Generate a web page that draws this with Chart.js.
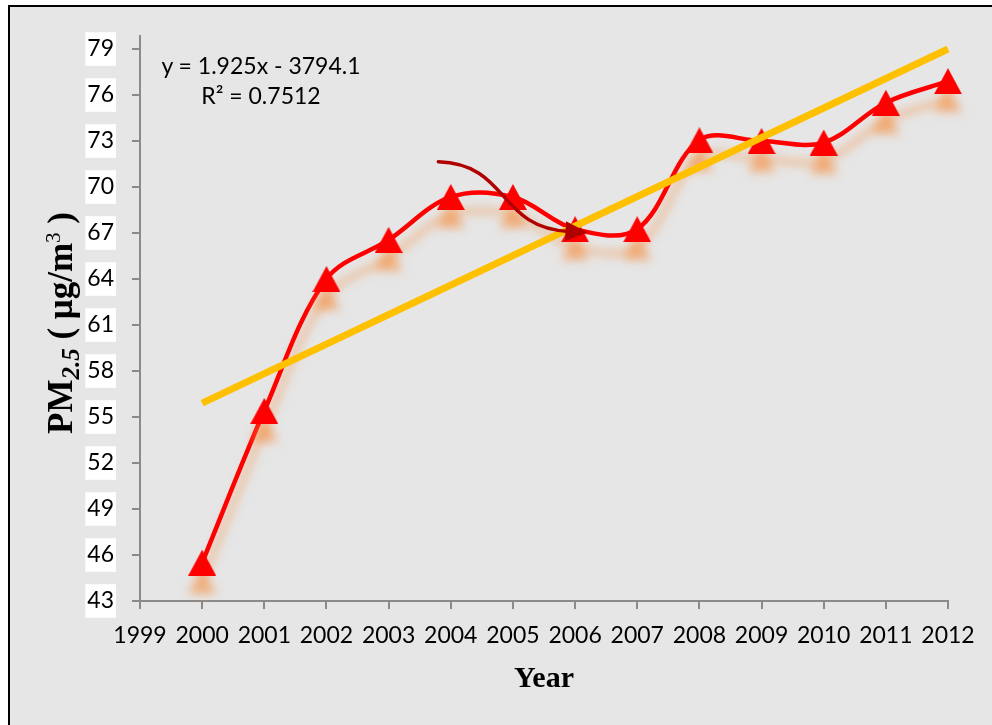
<!DOCTYPE html>
<html>
<head>
<meta charset="utf-8">
<script src="https://cdn.jsdelivr.net/npm/chart.js@4.4.1/dist/chart.umd.min.js"></script>
<style>
  body { margin: 0; background: #fff; width: 992px; height: 725px; overflow: hidden; position: relative; }
  #frame { position: absolute; left: 8px; top: 5px; width: 1000px; height: 740px; border: 2px solid #000; background: #e6e6e6; }
  #chart { position: absolute; left: 0; top: 0; }
  .eq { position: absolute; left: 151px; width: 220px; text-align: center; font: 23px Lato, "Open Sans", sans-serif; color: #000; line-height: 30px; }
  #ytitle { position: absolute; left: 63px; top: 323px; transform: translate(-50%, -50%) rotate(-90deg);
            white-space: nowrap; font: bold 35px "Liberation Serif", "Times New Roman", serif; color: #000; }
  #ytitle sub { font-size: 25px; font-style: italic; vertical-align: -7px; }
  #ytitle sup { font-size: 21px; vertical-align: 12px; font-weight: normal; }
</style>
</head>
<body>
<div id="frame"></div>
<canvas id="chart" width="992" height="725"></canvas>
<div class="eq" style="top:50px">y = 1.925x - 3794.1</div>
<div class="eq" style="top:80px">R² = 0.7512</div>
<div id="ytitle">PM<sub>2.5</sub>&nbsp;( μg/m<sup>3</sup> )</div>
<script>
// PM2.5 annual mean
const years = [2000, 2001, 2002, 2003, 2004, 2005, 2006, 2007, 2008, 2009, 2010, 2011, 2012];
const pm25  = [45.5, 55.4, 64.0, 66.55, 69.35, 69.35, 67.25, 67.25, 73.05, 73.0, 72.9, 75.5, 76.9];

// linear trendline (y = 1.925x - 3794.1), end points
const trendYears  = [2000, 2012];
const trendValues = [55.9, 79.0];

const xTicks = [1999, 2000, 2001, 2002, 2003, 2004, 2005, 2006, 2007, 2008, 2009, 2010, 2011, 2012];
const yTicks = [43, 46, 49, 52, 55, 58, 61, 64, 67, 70, 73, 76, 79];

// curved arrow annotation (data units: start, ctrl1, ctrl2, end)
const arrowPath = [[2003.8, 71.65], [2004.95, 71.5], [2004.75, 67.3], [2006.2, 67.05]];

// centred triangle marker
const tri = document.createElement('canvas');
tri.width = 28; tri.height = 26;
(function () {
  const c = tri.getContext('2d');
  c.fillStyle = '#ff0000';
  c.beginPath();
  c.moveTo(14, 0); c.lineTo(28, 26); c.lineTo(0, 26); c.closePath();
  c.fill();
})();

const shadowPlugin = {
  id: 'shadow',
  beforeDatasetDraw(chart, args) {
    if (args.index !== 1) return;
    const ctx = chart.ctx;
    ctx.save();
    ctx.shadowColor = 'rgba(245,140,60,0.6)';
    ctx.shadowBlur = 10;
    ctx.shadowOffsetY = 18;
  },
  afterDatasetDraw(chart, args) {
    if (args.index !== 1) return;
    chart.ctx.restore();
  }
};

const arrowPlugin = {
  id: 'arrow',
  afterDraw(chart) {
    const {ctx, scales: {x, y}} = chart;
    const p = arrowPath.map(([a, b]) => [x.getPixelForValue(a), y.getPixelForValue(b)]);
    const [ex, ey] = p[3];
    const ang = Math.atan2(ey - p[2][1], ex - p[2][0]);
    const c = Math.cos(ang), s = Math.sin(ang);
    const L = 22, W = 10;
    ctx.save();
    ctx.strokeStyle = '#b00000';
    ctx.fillStyle = '#b00000';
    ctx.lineWidth = 3.5;
    ctx.lineCap = 'round';
    ctx.beginPath();
    ctx.moveTo(p[0][0], p[0][1]);
    ctx.bezierCurveTo(p[1][0], p[1][1], p[2][0], p[2][1], ex - (L - 4) * c, ey - (L - 4) * s);
    ctx.stroke();
    ctx.beginPath();
    ctx.moveTo(ex, ey);
    ctx.lineTo(ex - L * c + W * s, ey - L * s - W * c);
    ctx.lineTo(ex - L * c - W * s, ey - L * s + W * c);
    ctx.closePath();
    ctx.fill();
    ctx.restore();
  }
};

const axisGray = '#8a8a8a';
const tickFont = { family: 'Lato, "Open Sans", sans-serif', size: 23 };

new Chart(document.getElementById('chart'), {
  type: 'line',
  data: {
    datasets: [
      {
        label: 'Trend',
        data: trendYears.map((t, i) => ({ x: t, y: trendValues[i] })),
        borderColor: '#ffc000',
        borderWidth: 7,
        pointRadius: 0,
        borderCapStyle: 'butt',
        clip: false
      },
      {
        label: 'PM2.5',
        data: years.map((t, i) => ({ x: t, y: pm25[i] })),
        borderColor: '#ff0000',
        borderWidth: 4.5,
        tension: 0.35,
        pointStyle: tri,
        pointRadius: 14,
        pointHoverRadius: 14,
        clip: false
      }
    ]
  },
  options: {
    responsive: false,
    animation: false,
    devicePixelRatio: 1,
    layout: { padding: { top: 36, right: 44, left: 0, bottom: 0 } },
    plugins: { legend: { display: false }, tooltip: { enabled: false } },
    scales: {
      x: {
        type: 'linear',
        min: 1999, max: 2012,
        afterBuildTicks(s) { s.ticks = xTicks.map(v => ({ value: v })); },
        afterFit(s) { s.height = 124; },
        ticks: { color: '#000', font: tickFont, padding: 13, maxRotation: 0, autoSkip: false, callback: v => String(v) },
        grid: { drawOnChartArea: false, drawTicks: true, tickLength: 8, color: axisGray, lineWidth: 2 },
        border: { display: true, color: axisGray, width: 2 },
        title: { display: true, text: 'Year', color: '#000',
                 font: { family: '"Liberation Serif", "Times New Roman", serif', size: 30, weight: 'bold' },
                 padding: { top: 0, bottom: 28 } }
      },
      y: {
        type: 'linear',
        min: 43, max: 79.85,
        afterBuildTicks(s) { s.ticks = yTicks.map(v => ({ value: v })); },
        afterFit(s) { s.width = 140; },
        ticks: { color: '#000', font: tickFont, padding: 18,
                 showLabelBackdrop: true, backdropColor: '#ffffff',
                 backdropPadding: { top: 3, bottom: 3, left: 2, right: 2 } },
        grid: { drawOnChartArea: false, drawTicks: true, tickLength: 8, color: axisGray, lineWidth: 2 },
        border: { display: true, color: axisGray, width: 2 }
      }
    }
  },
  plugins: [shadowPlugin, arrowPlugin]
});
</script>
</body>
</html>
